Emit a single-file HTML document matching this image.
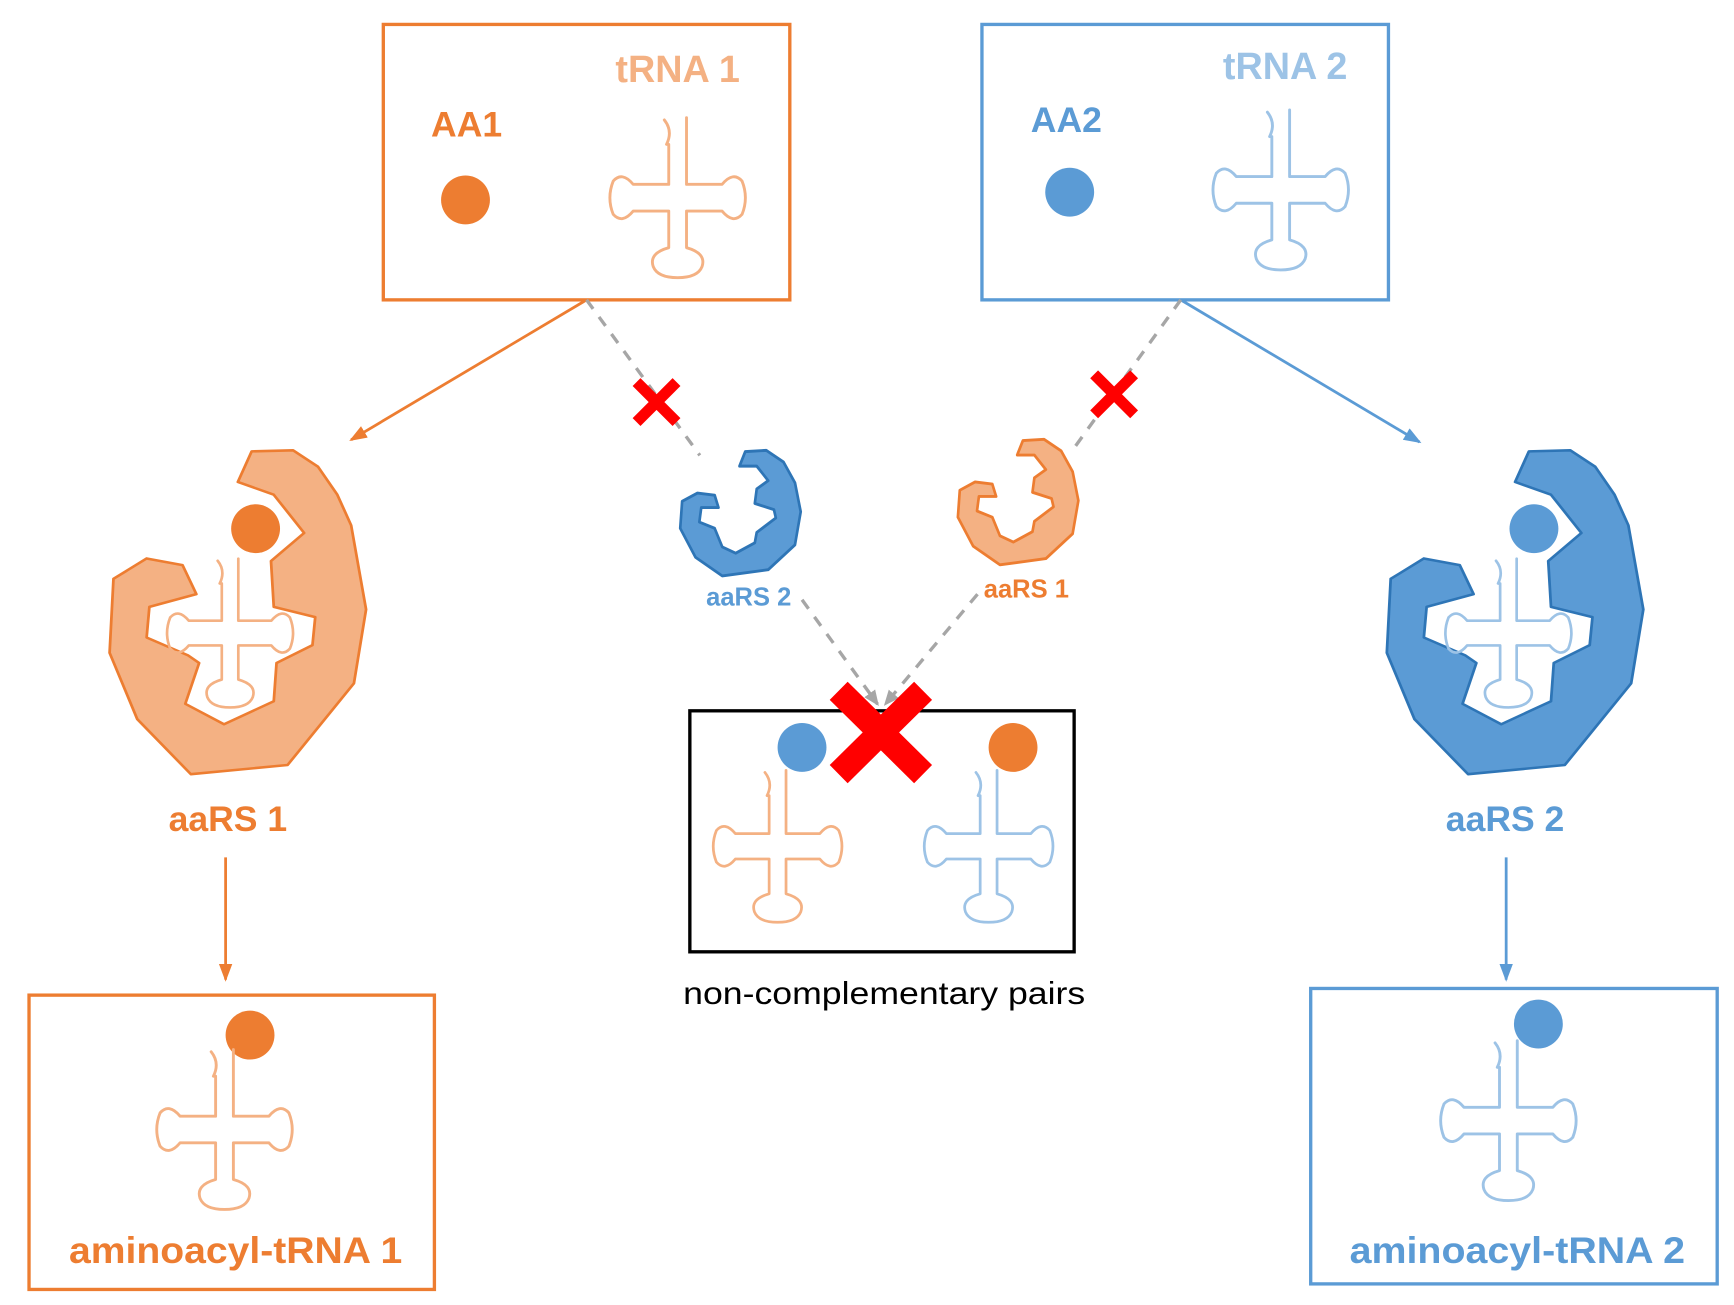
<!DOCTYPE html>
<html><head><meta charset="utf-8"><style>
html,body{margin:0;padding:0;background:#fff;}
svg{display:block;}
text{font-family:"Liberation Sans",sans-serif;font-weight:bold;}
</style></head><body>
<svg width="1734" height="1305" viewBox="0 0 1561 1175" xmlns="http://www.w3.org/2000/svg">
<defs>
<path id="trna" d="M -10,-48 Q -4,-60 -12,-70 M -8,-48 L -8,-12 L -40,-12 Q -50,-24 -58,-15 Q -64,0 -58,15 Q -50,24 -40,12 L -8,12 L -8,45 Q -26,50 -22,62 Q -18,72 0,72 Q 18,72 22,62 Q 26,50 8,45 L 8,12 L 40,12 Q 50,24 58,15 Q 64,0 58,-15 Q 50,-24 40,-12 L 8,-12 L 8,-72" fill="none" stroke-width="2.6" stroke-linecap="round" stroke-linejoin="round"/>
<polygon id="bigenz" points="455,885 530,883 575,915 610,970 635,1030 662,1195 640,1340 520,1500 345,1518 248,1410 198,1280 205,1135 265,1095 330,1108 355,1165 270,1190 265,1250 340,1285 360,1300 335,1380 405,1420 495,1375 500,1300 565,1265 570,1210 495,1190 490,1100 550,1045 495,970 430,945" stroke-width="5" stroke-linejoin="round"/>
<polygon id="smenz" points="365,160 380,125 435,122 480,150 510,200 525,270 510,350 440,410 320,425 250,380 210,310 215,245 255,225 300,230 310,260 265,260 260,295 300,310 320,355 355,370 405,345 410,320 460,285 455,265 405,250 410,215 440,195 410,160" stroke-width="7" stroke-linejoin="round"/>
<marker id="ao" markerWidth="18" markerHeight="14" refX="14" refY="6" orient="auto" markerUnits="userSpaceOnUse"><path d="M0,0 L16,6 L0,12 Z" fill="#ed7d31"/></marker>
<marker id="ab" markerWidth="18" markerHeight="14" refX="14" refY="6" orient="auto" markerUnits="userSpaceOnUse"><path d="M0,0 L16,6 L0,12 Z" fill="#5b9bd5"/></marker>
<marker id="ag" markerWidth="18" markerHeight="14" refX="12" refY="6" orient="auto" markerUnits="userSpaceOnUse"><path d="M0,0 L14,6 L0,12 Z" fill="#a6a6a6"/></marker>
</defs>

<rect x="345" y="22" width="366" height="248" fill="none" stroke="#ed7d31" stroke-width="3"/>
<text x="420" y="123" font-size="32" fill="#ed7d31" text-anchor="middle">AA1</text>
<circle cx="419" cy="180" r="22" fill="#ed7d31"/>
<text x="610" y="74" font-size="34" fill="#f4b183" text-anchor="middle">tRNA 1</text>
<use href="#trna" transform="translate(610,178)" stroke="#f4b183"/>

<rect x="884" y="22" width="366" height="248" fill="none" stroke="#5b9bd5" stroke-width="3"/>
<text x="960" y="119" font-size="32" fill="#5b9bd5" text-anchor="middle">AA2</text>
<circle cx="963" cy="173" r="22" fill="#5b9bd5"/>
<text x="1157" y="71" font-size="34" fill="#9dc3e6" text-anchor="middle">tRNA 2</text>
<use href="#trna" transform="translate(1153,171)" stroke="#9dc3e6"/>

<line x1="528" y1="270" x2="316" y2="396" stroke="#ed7d31" stroke-width="2.5" marker-end="url(#ao)"/>
<line x1="1063" y1="270" x2="1278" y2="398" stroke="#5b9bd5" stroke-width="2.5" marker-end="url(#ab)"/>

<g stroke="#a6a6a6" stroke-width="3" stroke-dasharray="10,9" fill="none">
<line x1="528" y1="270" x2="630" y2="410"/>
<line x1="1063" y1="270" x2="968" y2="402"/>
<line x1="722" y1="540" x2="790" y2="634" marker-end="url(#ag)"/>
<line x1="880" y1="535" x2="797" y2="634" marker-end="url(#ag)"/>
</g>

<g stroke="#ff0000" stroke-width="10">
<line x1="573" y1="344" x2="609" y2="380"/><line x1="609" y1="344" x2="573" y2="380"/>
<line x1="985" y1="337" x2="1021" y2="373"/><line x1="1021" y1="337" x2="985" y2="373"/>
</g>

<use href="#smenz" transform="translate(540,360) scale(0.3444,0.3731)" fill="#5b9bd5" stroke="#2e75b6"/>
<use href="#smenz" transform="translate(790,350) scale(0.3444,0.3731)" fill="#f4b183" stroke="#ed7d31"/>
<text x="674" y="545" font-size="23" fill="#5b9bd5" text-anchor="middle">aaRS 2</text>
<text x="924" y="538" font-size="23" fill="#ed7d31" text-anchor="middle">aaRS 1</text>

<rect x="621" y="640" width="346" height="217" fill="none" stroke="#000" stroke-width="3"/>
<circle cx="722" cy="673" r="22" fill="#5b9bd5"/>
<circle cx="912" cy="673" r="22" fill="#ed7d31"/>
<use href="#trna" transform="translate(700,762) scale(0.95)" stroke="#f4b183"/>
<use href="#trna" transform="translate(890,762) scale(0.95)" stroke="#9dc3e6"/>
<g stroke="#ff0000" stroke-width="23">
<line x1="755" y1="622" x2="831" y2="697"/><line x1="831" y1="622" x2="755" y2="697"/>
</g>
<text x="796" y="904" font-size="28" style="font-weight:normal" fill="#000" text-anchor="middle" textLength="362" lengthAdjust="spacingAndGlyphs">non-complementary pairs</text>

<use href="#bigenz" transform="scale(0.4977,0.4592)" fill="#f4b183" stroke="#ed7d31"/>
<circle cx="230" cy="476" r="22" fill="#ed7d31"/>
<use href="#trna" transform="translate(207,570) scale(0.93)" stroke="#f4b183"/>
<text x="205" y="748" font-size="32" fill="#ed7d31" text-anchor="middle">aaRS 1</text>
<line x1="203" y1="772" x2="203" y2="882" stroke="#ed7d31" stroke-width="2.5" marker-end="url(#ao)"/>
<rect x="26" y="896" width="365" height="265" fill="none" stroke="#ed7d31" stroke-width="3"/>
<circle cx="225" cy="932" r="22" fill="#ed7d31"/>
<use href="#trna" transform="translate(202,1017)" stroke="#f4b183"/>
<text x="212" y="1137" font-size="33" fill="#ed7d31" text-anchor="middle" textLength="300" lengthAdjust="spacingAndGlyphs">aminoacyl-tRNA 1</text>

<use href="#bigenz" transform="translate(1150,0) scale(0.4977,0.4592)" fill="#5b9bd5" stroke="#2e75b6"/>
<circle cx="1381" cy="476" r="22" fill="#5b9bd5"/>
<use href="#trna" transform="translate(1358,570) scale(0.93)" stroke="#9dc3e6"/>
<text x="1355" y="748" font-size="32" fill="#5b9bd5" text-anchor="middle">aaRS 2</text>
<line x1="1356" y1="772" x2="1356" y2="882" stroke="#5b9bd5" stroke-width="2.5" marker-end="url(#ab)"/>
<rect x="1180" y="890" width="366" height="266" fill="none" stroke="#5b9bd5" stroke-width="3"/>
<circle cx="1385" cy="922" r="22" fill="#5b9bd5"/>
<use href="#trna" transform="translate(1358,1009)" stroke="#9dc3e6"/>
<text x="1366" y="1137" font-size="33" fill="#5b9bd5" text-anchor="middle" textLength="302" lengthAdjust="spacingAndGlyphs">aminoacyl-tRNA 2</text>
</svg>
</body></html>
